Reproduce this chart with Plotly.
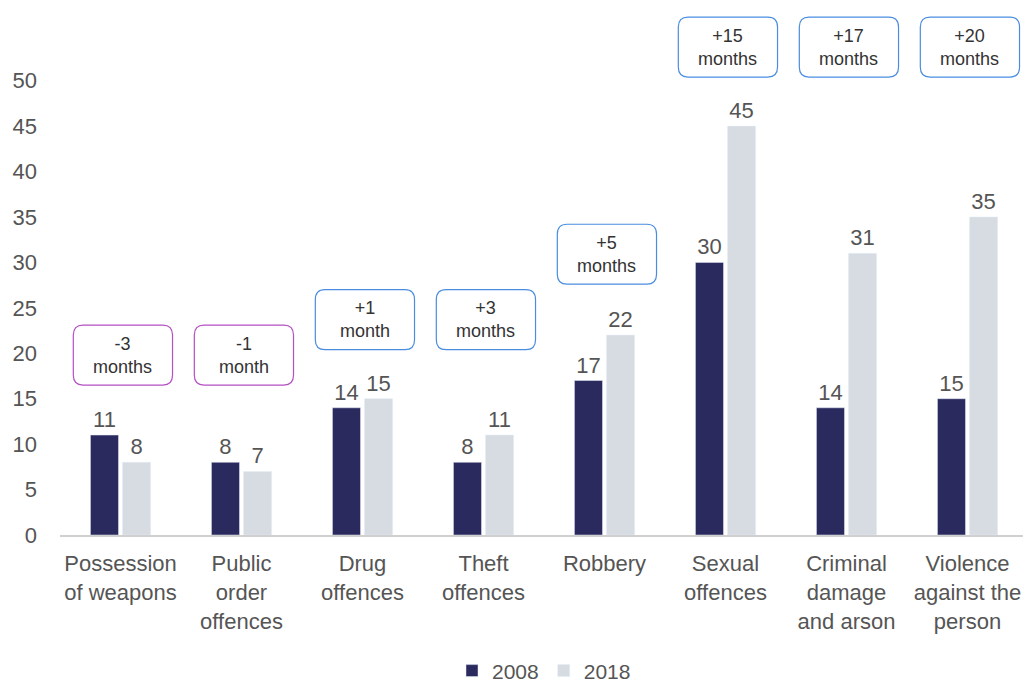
import plotly.graph_objects as go

categories = [
    "Possession<br>of weapons", "Public<br>order<br>offences", "Drug<br>offences",
    "Theft<br>offences", "Robbery", "Sexual<br>offences",
    "Criminal<br>damage<br>and arson", "Violence<br>against the<br>person",
]
values_2008 = [11, 8, 14, 8, 17, 30, 14, 15]
values_2018 = [8, 7, 15, 11, 22, 45, 31, 35]
change_labels = ["-3<br>months", "-1<br>month", "+1<br>month", "+3<br>months",
                 "+5<br>months", "+15<br>months", "+17<br>months", "+20<br>months"]
change_values = [-3, -1, 1, 3, 5, 15, 17, 20]

# where the callout boxes sit (bottom edge, in axis units)
box_bottoms = [16.5, 16.5, 20.4, 20.4, 27.6, 50.4, 50.4, 50.4]
BOX_W, BOX_H = 0.82, 6.6
RX, RY = 0.08, 1.1

NAVY = "#2b2a5f"
LIGHT = "#d7dce3"
TEXT = "#555555"
FONT = "Liberation Sans, Arial, sans-serif"


def rounded_box(xc, y0, w, h):
    x0, x1, y1 = xc - w / 2, xc + w / 2, y0 + h
    return (f"M {x0+RX},{y0} L {x1-RX},{y0} Q {x1},{y0} {x1},{y0+RY} "
            f"L {x1},{y1-RY} Q {x1},{y1} {x1-RX},{y1} L {x0+RX},{y1} "
            f"Q {x0},{y1} {x0},{y1-RY} L {x0},{y0+RY} Q {x0},{y0} {x0+RX},{y0} Z")


fig = go.Figure()
fig.add_trace(go.Bar(x=categories, y=values_2008, name="2008", marker_color=NAVY,
                     text=values_2008, textposition="outside", cliponaxis=False,
                     textfont=dict(size=22, color=TEXT)))
fig.add_trace(go.Bar(x=categories, y=values_2018, name="2018", marker_color=LIGHT,
                     text=values_2018, textposition="outside", cliponaxis=False,
                     textfont=dict(size=22, color=TEXT)))

for i, (lab, val) in enumerate(zip(change_labels, change_values)):
    color = "#b54fc4" if val < 0 else "#4a8de0"
    fig.add_shape(type="path", xref="x", yref="y",
                  path=rounded_box(i + 0.02, box_bottoms[i], BOX_W, BOX_H),
                  line=dict(color=color, width=1.2), fillcolor="white", layer="above")
    fig.add_annotation(x=i + 0.02, y=box_bottoms[i] + BOX_H / 2, xref="x", yref="y",
                       text=lab, showarrow=False,
                       font=dict(size=18, color="#333333", family=FONT))

fig.update_layout(
    width=1023, height=678,
    paper_bgcolor="white", plot_bgcolor="white",
    font=dict(family=FONT, size=22, color=TEXT),
    margin=dict(l=52, r=3, t=0, b=151, autoexpand=False),
    barmode="group", bargap=0.47, bargroupgap=0.125,
    showlegend=True,
    legend=dict(orientation="h", x=0.5, xanchor="center", y=-0.258, yanchor="middle",
                font=dict(size=21, color=TEXT), itemwidth=30),
    xaxis=dict(showline=True, linecolor="#d0d0d0", linewidth=2, ticks="",
               tickfont=dict(size=22, color=TEXT), ticklabelstandoff=8),
    yaxis=dict(range=[0, 58.0], tickvals=list(range(0, 51, 5)), showgrid=False,
               zeroline=False, showline=False, ticks="", ticklabelstandoff=22,
               tickfont=dict(size=22, color=TEXT)),
)

fig.write_html("out.html")
